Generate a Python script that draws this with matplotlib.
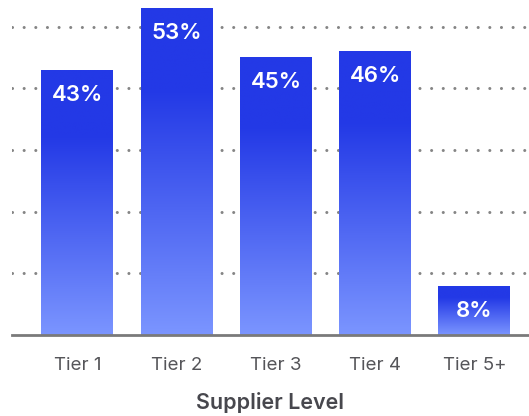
"""Supplier share by tier: vertical bars with a top-to-bottom blue gradient."""
import matplotlib.pyplot as plt
import numpy as np
from matplotlib.colors import LinearSegmentedColormap

plt.rcParams["font.family"] = ["Inter", "DejaVu Sans"]

TIERS = ["Tier 1", "Tier 2", "Tier 3", "Tier 4", "Tier 5+"]
SHARE = [43, 53, 45, 46, 8]
GRID_TICKS = [10, 20, 30, 40, 50]

DARK = "#2339E6"
LIGHT = "#7B95FF"
GRID = "#858585"
AXIS = "#7A7A7A"
TEXT = "#555559"

grad = LinearSegmentedColormap.from_list(
    "bar_grad", [(0.0, LIGHT), (0.75, DARK), (1.0, DARK)]
)

fig = plt.figure(figsize=(5.29, 4.16), dpi=100)
ax = fig.add_axes([12 / 529, 81 / 416, 1 - 12 / 529, 335 / 416])

x = np.arange(len(TIERS))
width = 0.725

for gy in GRID_TICKS:
    ax.axhline(gy, color=GRID, lw=2.2, linestyle=(0, (0.01, 3.8)),
               dash_capstyle="round", zorder=0)

bars = ax.bar(x, SHARE, width=width, color="none", edgecolor="none", zorder=2)
ramp = np.linspace(0, 1, 256).reshape(-1, 1)
for rect, val in zip(bars, SHARE):
    x0 = rect.get_x()
    im = ax.imshow(ramp, cmap=grad, aspect="auto", origin="lower",
                   extent=[x0, x0 + rect.get_width(), 0, val], zorder=2)
    im.set_clip_path(rect)
    ax.annotate(f"{val}%", (rect.get_x() + rect.get_width() / 2, val),
                xytext=(0, -18), textcoords="offset points",
                ha="center", va="center", color="white",
                fontsize=16, fontweight="semibold", zorder=3)

ax.set_xlim(-0.658, 4.549)
ax.set_ylim(0, 54.3)

for side in ["top", "right", "left"]:
    ax.spines[side].set_visible(False)
ax.spines["bottom"].set_color(AXIS)
ax.spines["bottom"].set_linewidth(2)
ax.set_yticks([])
ax.set_xticks(x)
ax.set_xticklabels(TIERS, fontsize=13.5, color=TEXT)
ax.tick_params(axis="x", length=0, pad=16)
ax.set_xlabel("Supplier Level", fontsize=15.5, fontweight="semibold",
              color="#47474D", labelpad=13)

fig.savefig("out.png", dpi=100)
